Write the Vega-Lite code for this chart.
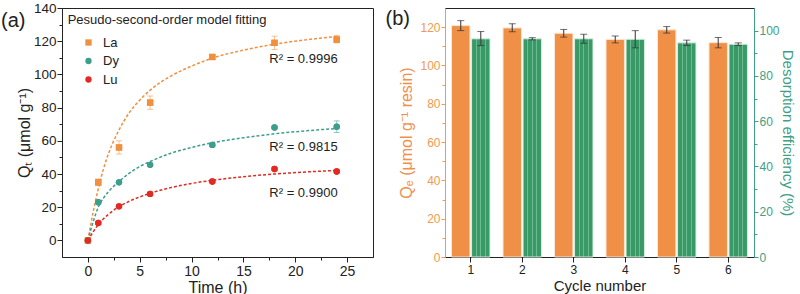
{
  "$schema": "https://vega.github.io/schema/vega-lite/v6.json",
  "padding": 0,
  "background": "white",
  "bounds": "flush",
  "spacing": 72,
  "config": {
    "font": "Liberation Sans",
    "view": {"stroke": "#222", "strokeWidth": 1},
    "axis": {
      "labelFont": "Liberation Sans", "titleFont": "Liberation Sans",
      "labelFontSize": 14, "titleFontSize": 16, "titleFontWeight": "normal",
      "labelColor": "#222", "titleColor": "#222", "domainColor": "#222", "tickColor": "#222",
      "grid": false, "tickSize": 5, "labelPadding": 2
    }
  },
  "datasets": {
    "pts": [
      {"t": 0, "q": 0, "lo": 0, "hi": 0, "el": "La"},
      {"t": 1, "q": 35, "lo": 33, "hi": 37, "el": "La"},
      {"t": 3, "q": 56, "lo": 52, "hi": 60, "el": "La"},
      {"t": 6, "q": 83, "lo": 79, "hi": 87, "el": "La"},
      {"t": 12, "q": 110.5, "lo": 109.5, "hi": 111.5, "el": "La"},
      {"t": 18, "q": 119, "lo": 115, "hi": 123, "el": "La"},
      {"t": 24, "q": 121, "lo": 119, "hi": 123.5, "el": "La"},
      {"t": 0, "q": 0, "lo": 0, "hi": 0, "el": "Dy"},
      {"t": 1, "q": 23, "lo": 22.2, "hi": 23.8, "el": "Dy"},
      {"t": 3, "q": 35, "lo": 34.2, "hi": 35.8, "el": "Dy"},
      {"t": 6, "q": 45.5, "lo": 44.7, "hi": 46.3, "el": "Dy"},
      {"t": 12, "q": 57.5, "lo": 56.7, "hi": 58.3, "el": "Dy"},
      {"t": 18, "q": 68, "lo": 67.2, "hi": 68.8, "el": "Dy"},
      {"t": 24, "q": 68.5, "lo": 65, "hi": 72, "el": "Dy"},
      {"t": 0, "q": 0, "lo": 0, "hi": 0, "el": "Lu"},
      {"t": 1, "q": 10.5, "lo": 9.8, "hi": 11.2, "el": "Lu"},
      {"t": 3, "q": 20.5, "lo": 19.8, "hi": 21.2, "el": "Lu"},
      {"t": 6, "q": 28, "lo": 27.3, "hi": 28.7, "el": "Lu"},
      {"t": 12, "q": 35.5, "lo": 34.8, "hi": 36.2, "el": "Lu"},
      {"t": 18, "q": 43, "lo": 42.3, "hi": 43.7, "el": "Lu"},
      {"t": 24, "q": 41.5, "lo": 40.8, "hi": 42.2, "el": "Lu"}
    ],
    "fit": [
      {"t": 0, "q": 0, "el": "La"}, {"t": 0.5, "q": 17, "el": "La"}, {"t": 1, "q": 31, "el": "La"},
      {"t": 1.5, "q": 43, "el": "La"}, {"t": 2, "q": 52.5, "el": "La"}, {"t": 3, "q": 66.5, "el": "La"},
      {"t": 4, "q": 77, "el": "La"}, {"t": 5, "q": 84.5, "el": "La"}, {"t": 6, "q": 90.5, "el": "La"},
      {"t": 8, "q": 99, "el": "La"}, {"t": 10, "q": 105, "el": "La"}, {"t": 12, "q": 109.8, "el": "La"},
      {"t": 15, "q": 114.6, "el": "La"}, {"t": 18, "q": 118.2, "el": "La"}, {"t": 21, "q": 120.8, "el": "La"},
      {"t": 24, "q": 122.8, "el": "La"},
      {"t": 0, "q": 0, "el": "Dy"}, {"t": 0.5, "q": 11, "el": "Dy"}, {"t": 1, "q": 20, "el": "Dy"},
      {"t": 1.5, "q": 25.5, "el": "Dy"}, {"t": 2, "q": 29.5, "el": "Dy"}, {"t": 3, "q": 35.5, "el": "Dy"},
      {"t": 4, "q": 40.5, "el": "Dy"}, {"t": 5, "q": 44.5, "el": "Dy"}, {"t": 6, "q": 47.5, "el": "Dy"},
      {"t": 8, "q": 52.5, "el": "Dy"}, {"t": 10, "q": 56, "el": "Dy"}, {"t": 12, "q": 58.8, "el": "Dy"},
      {"t": 15, "q": 61.8, "el": "Dy"}, {"t": 18, "q": 64.2, "el": "Dy"}, {"t": 21, "q": 66, "el": "Dy"},
      {"t": 24, "q": 67.4, "el": "Dy"},
      {"t": 0, "q": 0, "el": "Lu"}, {"t": 0.5, "q": 5.1, "el": "Lu"}, {"t": 1, "q": 9.6, "el": "Lu"},
      {"t": 1.5, "q": 13, "el": "Lu"}, {"t": 2, "q": 15.8, "el": "Lu"}, {"t": 3, "q": 20.3, "el": "Lu"},
      {"t": 4, "q": 23.6, "el": "Lu"}, {"t": 5, "q": 26.2, "el": "Lu"}, {"t": 6, "q": 28.4, "el": "Lu"},
      {"t": 8, "q": 31.8, "el": "Lu"}, {"t": 10, "q": 34.3, "el": "Lu"}, {"t": 12, "q": 36.2, "el": "Lu"},
      {"t": 15, "q": 38.4, "el": "Lu"}, {"t": 18, "q": 40, "el": "Lu"}, {"t": 21, "q": 41.2, "el": "Lu"},
      {"t": 24, "q": 42.2, "el": "Lu"}
    ],
    "ann": [
      {"t": -1.95, "q": 133, "label": "Pesudo-second-order model fitting"},
      {"t": 17.5, "q": 109.5, "label": "R² = 0.9996"},
      {"t": 17.5, "q": 56.4, "label": "R² = 0.9815"},
      {"t": 17.5, "q": 28.4, "label": "R² = 0.9900"}
    ],
    "panelA": [
      {"t": -7.2, "q": 132, "label": "(a)"}
    ],
    "panelB": [
      {"cycle": "1", "s": "Qe", "v": 124.5, "label": "(b)"}
    ],
    "qe": [
      {"cycle": "1", "s": "Qe", "v": 120.8, "lo": 118.2, "hi": 123.4},
      {"cycle": "2", "s": "Qe", "v": 119.6, "lo": 117.6, "hi": 121.8},
      {"cycle": "3", "s": "Qe", "v": 116.8, "lo": 114.8, "hi": 118.8},
      {"cycle": "4", "s": "Qe", "v": 113.6, "lo": 111.8, "hi": 115.4},
      {"cycle": "5", "s": "Qe", "v": 118.6, "lo": 116.9, "hi": 120.3},
      {"cycle": "6", "s": "Qe", "v": 111.9, "lo": 109.2, "hi": 114.6}
    ],
    "de": [
      {"cycle": "1", "s": "DE", "v": 96.4, "lo": 93.4, "hi": 99.6},
      {"cycle": "2", "s": "DE", "v": 96.4, "lo": 95.9, "hi": 96.9},
      {"cycle": "3", "s": "DE", "v": 96.4, "lo": 94.4, "hi": 98.4},
      {"cycle": "4", "s": "DE", "v": 96.2, "lo": 92.4, "hi": 100.0},
      {"cycle": "5", "s": "DE", "v": 94.6, "lo": 93.4, "hi": 95.8},
      {"cycle": "6", "s": "DE", "v": 94.0, "lo": 93.4, "hi": 94.6}
    ]
  },
  "resolve": {"legend": {"color": "independent", "shape": "independent"}},
  "hconcat": [
    {
      "width": 311,
      "height": 249,
      "encoding": {
        "x": {"field": "t", "type": "quantitative",
          "scale": {"domain": [-2.5, 27.5], "nice": false, "zero": false},
          "axis": {"title": "Time (h)", "values": [0, 2.5, 5, 7.5, 10, 12.5, 15, 17.5, 20, 22.5, 25],
            "labelExpr": "datum.value % 5 === 0 ? datum.label : ''",
            "tickSize": {"condition": {"test": "datum.value % 5 !== 0", "value": 3}, "value": 5},
            "labelPadding": 2, "titlePadding": 1, "titleFontSize": 16, "titleFontWeight": "normal"}},
        "y": {"field": "q", "type": "quantitative",
          "scale": {"domain": [-10, 140], "nice": false, "zero": false},
          "axis": {"title": "Qₜ (μmol g⁻¹)", "values": [0, 10, 20, 30, 40, 50, 60, 70, 80, 90, 100, 110, 120, 130, 140],
            "labelExpr": "datum.value % 20 === 0 ? datum.label : ''",
            "tickSize": {"condition": {"test": "datum.value % 20 !== 0", "value": 3}, "value": 5},
            "labelPadding": 1, "titlePadding": 1, "labelFontSize": 13.5, "titleFontWeight": "normal"}}
      },
      "layer": [
        {
          "data": {"name": "pts"},
          "mark": {"type": "point", "filled": true, "size": 40, "opacity": 1},
          "encoding": {
            "color": {"field": "el", "type": "nominal",
              "scale": {"domain": ["La", "Dy", "Lu"], "range": ["#F0903E", "#3E9E8E", "#E22A22"]},
              "legend": {"orient": "none", "legendX": 20, "legendY": 28, "title": null, "labelFontSize": 13, "symbolSize": 40, "rowPadding": 4.5, "padding": 0, "labelOffset": 8, "labelColor": "#222", "labelFont": "Liberation Sans", "symbolStrokeWidth": 0}},
            "shape": {"field": "el", "type": "nominal",
              "scale": {"domain": ["La", "Dy", "Lu"], "range": ["square", "circle", "circle"]},
              "legend": {"orient": "none", "legendX": 20, "legendY": 28, "title": null, "labelFontSize": 13, "symbolSize": 40, "rowPadding": 4.5, "padding": 0, "labelOffset": 8, "labelColor": "#222", "labelFont": "Liberation Sans", "symbolStrokeWidth": 0}}
          }
        },
        {
          "data": {"name": "fit"},
          "mark": {"type": "line", "strokeDash": [3, 2], "strokeWidth": 1.5, "interpolate": "monotone"},
          "encoding": {
            "color": {"field": "el", "type": "nominal"}
          }
        },
        {
          "data": {"name": "pts"},
          "mark": {"type": "rule", "strokeWidth": 1, "opacity": 0.55},
          "encoding": {
            "y": {"field": "lo", "type": "quantitative"},
            "y2": {"field": "hi"},
            "color": {"field": "el", "type": "nominal"}
          }
        },
        {
          "data": {"name": "pts"},
          "mark": {"type": "tick", "orient": "horizontal", "size": 6, "thickness": 1, "opacity": 0.55},
          "encoding": {
            "y": {"field": "lo", "type": "quantitative"},
            "color": {"field": "el", "type": "nominal"}
          }
        },
        {
          "data": {"name": "pts"},
          "mark": {"type": "tick", "orient": "horizontal", "size": 6, "thickness": 1, "opacity": 0.55},
          "encoding": {
            "y": {"field": "hi", "type": "quantitative"},
            "color": {"field": "el", "type": "nominal"}
          }
        },
        {
          "data": {"name": "pts"},
          "mark": {"type": "point", "filled": true, "size": 40, "opacity": 1},
          "encoding": {
            "color": {"field": "el", "type": "nominal"},
            "shape": {"field": "el", "type": "nominal"}
          }
        },
        {
          "data": {"name": "ann"},
          "mark": {"type": "text", "align": "left", "baseline": "middle", "fontSize": 13, "color": "#222"},
          "encoding": {"text": {"field": "label"}}
        },
        {
          "data": {"name": "panelA"},
          "mark": {"type": "text", "align": "center", "baseline": "middle", "fontSize": 20, "color": "#222"},
          "encoding": {"text": {"field": "label"}}
        }
      ]
    },
    {
      "width": 309,
      "height": 249,
      "encoding": {
        "x": {"field": "cycle", "type": "ordinal",
          "scale": {"paddingInner": 0.253, "paddingOuter": 0.127},
          "axis": {"title": "Cycle number", "labelAngle": 0, "labelPadding": 2.5, "titlePadding": 2.5, "labelFontSize": 12, "titleFontSize": 15, "titleFontWeight": "normal"}},
        "xOffset": {"field": "s", "type": "nominal", "scale": {"domain": ["Qe", "DE"], "paddingInner": 0.08}}
      },
      "layer": [
        {
          "data": {"name": "qe"},
          "encoding": {
            "y": {"field": "v", "type": "quantitative",
              "scale": {"domain": [0, 130], "nice": false},
              "axis": {"title": "Qₑ (μmol g⁻¹ resin)", "orient": "left",
                "values": [0, 10, 20, 30, 40, 50, 60, 70, 80, 90, 100, 110, 120],
                "labelExpr": "datum.value % 20 === 0 ? datum.label : ''",
                "tickSize": {"condition": {"test": "datum.value % 20 !== 0", "value": 3}, "value": 4},
                "labelFontSize": 12, "titleFontWeight": "normal",
                "domainColor": "#F29A50", "tickColor": "#F29A50", "labelColor": "#F29A50", "titleColor": "#F0904A",
                "labelPadding": 1, "titlePadding": 5}}
          },
          "layer": [
            {"mark": {"type": "bar", "color": "#EF9046", "stroke": "#FBE5D3", "strokeWidth": 1}},
            {"mark": {"type": "rule", "color": "#333", "strokeWidth": 1},
              "encoding": {"y": {"field": "lo", "type": "quantitative"}, "y2": {"field": "hi"}}},
            {"mark": {"type": "tick", "orient": "horizontal", "size": 7, "thickness": 1, "color": "#333"},
              "encoding": {"y": {"field": "lo", "type": "quantitative"}}},
            {"mark": {"type": "tick", "orient": "horizontal", "size": 7, "thickness": 1, "color": "#333"},
              "encoding": {"y": {"field": "hi", "type": "quantitative"}}},
            {"data": {"name": "panelB"},
              "mark": {"type": "text", "align": "center", "baseline": "middle", "fontSize": 20, "color": "#222", "dx": -63},
              "encoding": {"text": {"field": "label"}}}
          ]
        },
        {
          "data": {"name": "de"},
          "encoding": {
            "y": {"field": "v", "type": "quantitative",
              "scale": {"domain": [0, 110], "nice": false},
              "axis": {"title": "Desorption efficiency (%)", "orient": "right",
                "values": [0, 10, 20, 30, 40, 50, 60, 70, 80, 90, 100],
                "labelExpr": "datum.value % 20 === 0 ? datum.label : ''",
                "tickSize": {"condition": {"test": "datum.value % 20 !== 0", "value": 3}, "value": 4},
                "labelFontSize": 12, "titleFontSize": 15, "titleFontWeight": "normal",
                "domainColor": "#3E9E86", "tickColor": "#3E9E86", "labelColor": "#3E9E86", "titleColor": "#3E9E86",
                "labelPadding": 1, "titlePadding": 0}}
          },
          "layer": [
            {"mark": {"type": "bar", "stroke": "#D5EEDF", "strokeWidth": 1,
              "color": {"gradient": "linear", "x1": 0, "x2": 1, "y1": 0, "y2": 0,
                "stops": [
                  {"offset": 0, "color": "#399A67"}, {"offset": 0.22, "color": "#399A67"},
                  {"offset": 0.22, "color": "#6CBB90"}, {"offset": 0.27, "color": "#6CBB90"},
                  {"offset": 0.27, "color": "#399A67"}, {"offset": 0.47, "color": "#399A67"},
                  {"offset": 0.47, "color": "#6CBB90"}, {"offset": 0.52, "color": "#6CBB90"},
                  {"offset": 0.52, "color": "#399A67"}, {"offset": 0.72, "color": "#399A67"},
                  {"offset": 0.72, "color": "#6CBB90"}, {"offset": 0.77, "color": "#6CBB90"},
                  {"offset": 0.77, "color": "#399A67"}, {"offset": 1, "color": "#399A67"}
                ]}}},
            {"mark": {"type": "rule", "color": "#333", "strokeWidth": 1},
              "encoding": {"y": {"field": "lo", "type": "quantitative"}, "y2": {"field": "hi"}}},
            {"mark": {"type": "tick", "orient": "horizontal", "size": 7, "thickness": 1, "color": "#333"},
              "encoding": {"y": {"field": "lo", "type": "quantitative"}}},
            {"mark": {"type": "tick", "orient": "horizontal", "size": 7, "thickness": 1, "color": "#333"},
              "encoding": {"y": {"field": "hi", "type": "quantitative"}}}
          ]
        }
      ],
      "resolve": {"scale": {"y": "independent"}}
    }
  ]
}
